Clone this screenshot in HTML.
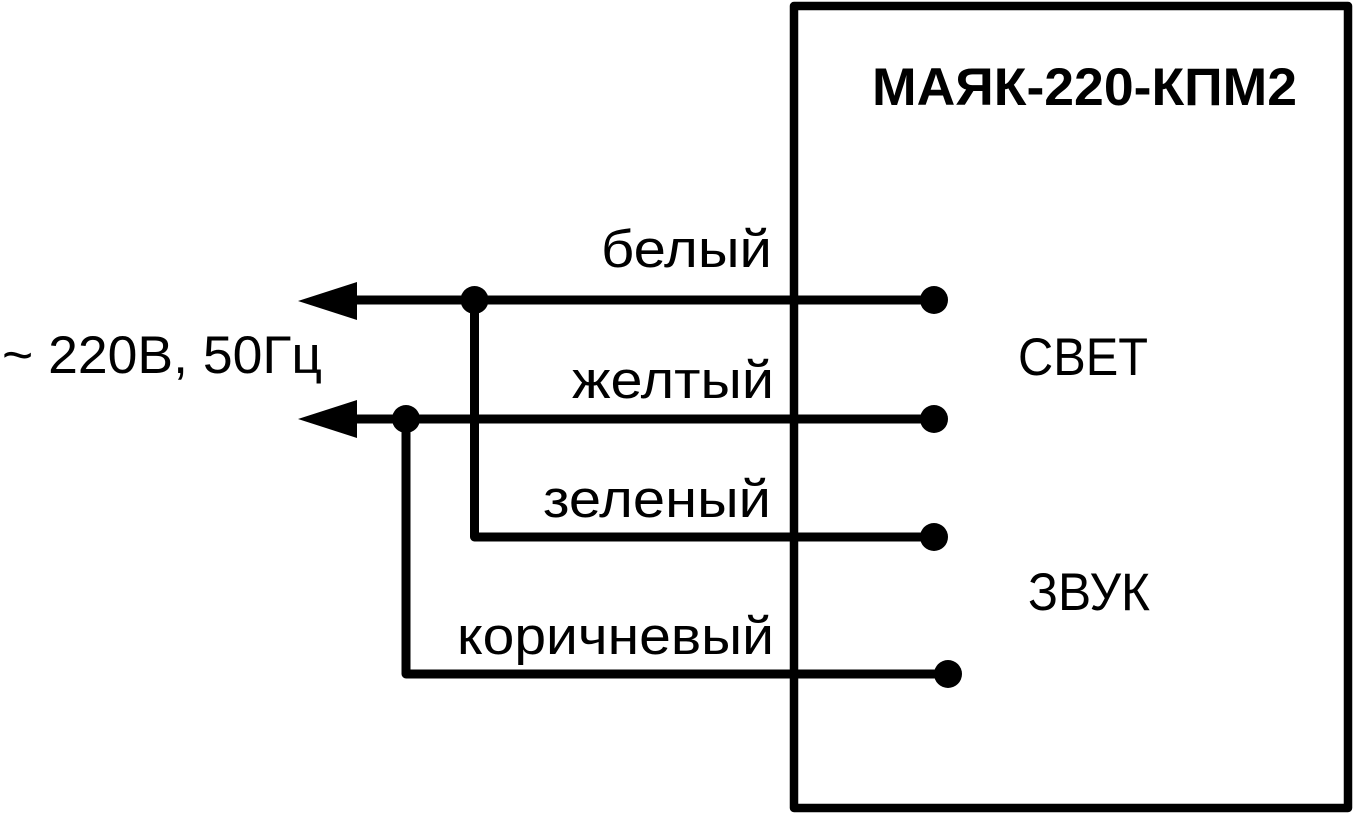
<!DOCTYPE html>
<html><head><meta charset="utf-8"><style>
html,body{margin:0;padding:0;background:#fff;}
svg{display:block;}
text{font-family:"Liberation Sans",Arial,sans-serif;fill:#000;}
</style></head><body>
<svg width="1354" height="814" viewBox="0 0 1354 814" xmlns="http://www.w3.org/2000/svg">
<rect x="794" y="6" width="554" height="802" fill="none" stroke="#000" stroke-width="8.5" stroke-linejoin="round"/>
<g stroke="#000" stroke-width="9" fill="none" stroke-linecap="round" stroke-linejoin="round">
<line x1="350" y1="300" x2="934" y2="300"/>
<line x1="350" y1="419" x2="934" y2="419"/>
<polyline points="474.5,300 474.5,537 934,537"/>
<polyline points="406,419 406,674 948,674"/>
</g>
<polygon points="298,301 357,282 357,320" fill="#000"/>
<polygon points="298,419 357,400 357,438" fill="#000"/>
<g fill="#000">
<circle cx="474.5" cy="300" r="14"/>
<circle cx="406" cy="419" r="14"/>
<circle cx="934" cy="300" r="14"/>
<circle cx="934" cy="419" r="14"/>
<circle cx="934" cy="537" r="14"/>
<circle cx="948" cy="674" r="14"/>
</g>
<text x="872" y="105" font-size="53" font-weight="bold" textLength="425" lengthAdjust="spacingAndGlyphs">МАЯК-220-КПМ2</text>
<text x="2" y="373" font-size="53" textLength="320" lengthAdjust="spacingAndGlyphs">~ 220В, 50Гц</text>
<g font-size="53" lengthAdjust="spacingAndGlyphs">
<text x="601" y="267" textLength="171" lengthAdjust="spacingAndGlyphs">белый</text>
<text x="572" y="398" textLength="202" lengthAdjust="spacingAndGlyphs">желтый</text>
<text x="543" y="517" textLength="228" lengthAdjust="spacingAndGlyphs">зеленый</text>
<text x="457" y="654" textLength="317" lengthAdjust="spacingAndGlyphs">коричневый</text>
</g>
<text x="1018" y="375" font-size="53" textLength="130" lengthAdjust="spacingAndGlyphs">СВЕТ</text>
<text x="1028" y="610" font-size="53" textLength="122" lengthAdjust="spacingAndGlyphs">ЗВУК</text>
</svg>
</body></html>
